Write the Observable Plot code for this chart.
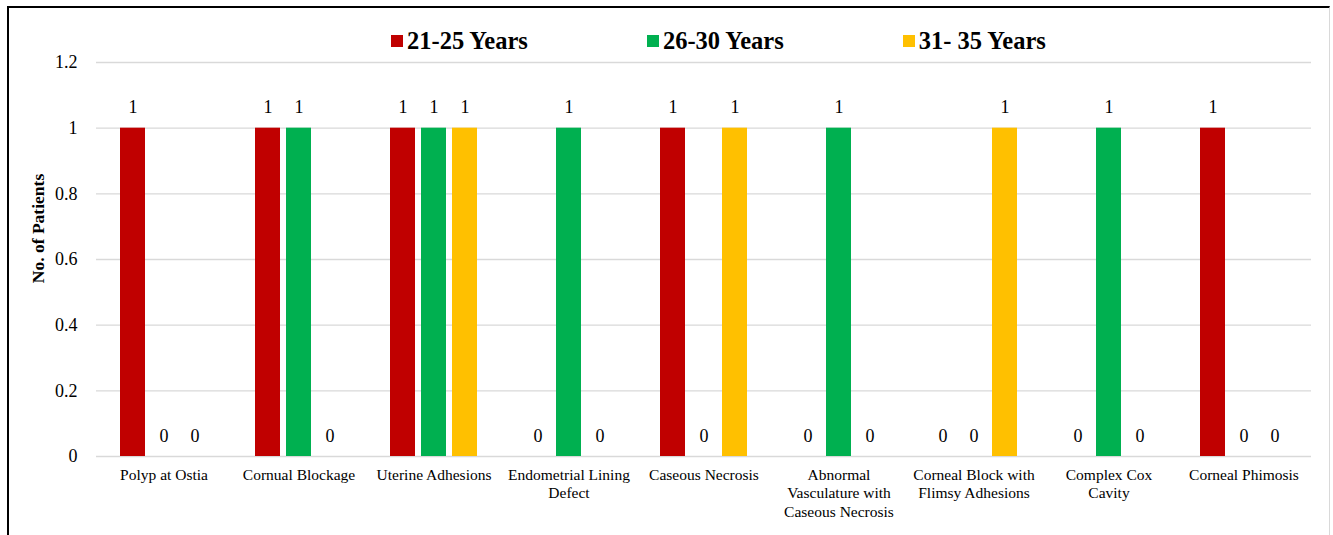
<!DOCTYPE html>
<html>
<head>
<meta charset="utf-8">
<script src="https://cdn.jsdelivr.net/npm/d3@7"></script>
<script src="https://cdn.jsdelivr.net/npm/@observablehq/plot@0.6"></script>
<style>
  html, body { margin: 0; padding: 0; background: #fff; overflow: hidden; }
  #wrap {
    position: absolute; left: 7px; top: 6px; width: 1320px; height: 560px;
    border-left: 2px solid #000; border-top: 2px solid #000; border-right: 1px solid #d9d9d9;
    font-family: "Liberation Serif", "Times New Roman", serif;
  }
  #legend {
    height: 44px; display: flex; align-items: center; padding-left: 382px; gap: 119px;
    font-weight: bold; font-size: 24.5px; color: #000; box-sizing: border-box; padding-top: 22px;
  }
  #legend .item { display: flex; align-items: center; gap: 4px; }
  #legend .sw { width: 12px; height: 12px; display: inline-block; }
  svg { display: block; }
</style>
</head>
<body>
<div id="wrap">
  <div id="legend"></div>
  <div id="chart"></div>
</div>
<script>
const categories = [
  "Polyp at Ostia",
  "Cornual Blockage",
  "Uterine Adhesions",
  "Endometrial Lining Defect",
  "Caseous Necrosis",
  "Abnormal Vasculature with Caseous Necrosis",
  "Corneal Block with Flimsy Adhesions",
  "Complex Cox Cavity",
  "Corneal Phimosis"
];
const categoryLabels = [
  "Polyp at Ostia",
  "Cornual Blockage",
  "Uterine Adhesions",
  "Endometrial Lining\nDefect",
  "Caseous Necrosis",
  "Abnormal\nVasculature with\nCaseous Necrosis",
  "Corneal Block with\nFlimsy Adhesions",
  "Complex Cox\nCavity",
  "Corneal Phimosis"
];
const seriesNames = ["21-25 Years", "26-30 Years", "31- 35 Years"];
const seriesColors = ["#C00000", "#00B050", "#FFC000"];
const age21_25 = [1, 1, 1, 0, 1, 0, 0, 0, 1];
const age26_30 = [0, 1, 1, 1, 0, 1, 0, 1, 0];
const age31_35 = [0, 0, 1, 0, 1, 0, 1, 0, 0];
const yTicks = [0, 0.2, 0.4, 0.6, 0.8, 1, 1.2];
const yLabel = "No. of Patients";

const seriesValues = [age21_25, age26_30, age31_35];
const data = [];
categories.forEach((c, i) => {
  seriesNames.forEach((s, j) => data.push({category: c, series: s, value: seriesValues[j][i]}));
});
const labelOf = Object.fromEntries(categories.map((c, i) => [c, categoryLabels[i]]));

// legend
const legend = document.getElementById("legend");
seriesNames.forEach((s, j) => {
  const it = document.createElement("div");
  it.className = "item";
  it.innerHTML = `<span class="sw" style="background:${seriesColors[j]}"></span><span>${s}</span>`;
  legend.appendChild(it);
});

const chart = Plot.plot({
  width: 1320,
  height: 483,
  marginLeft: 84,
  marginRight: 16,
  marginTop: 10,
  marginBottom: 79,
  style: {fontFamily: "'Liberation Serif', 'Times New Roman', serif", fontSize: "18px", color: "#000", background: "#fff"},
  fx: {domain: categories, padding: 0, axis: null, label: null},
  x: {domain: seriesNames, paddingInner: 0.2, paddingOuter: 0.76, axis: null},
  y: {domain: [0, 1.2], axis: null},
  color: {domain: seriesNames, range: seriesColors},
  marks: [
    Plot.gridY(yTicks, {stroke: "#d9d9d9", strokeOpacity: 1, strokeWidth: 1.3}),
    Plot.axisY({ticks: yTicks, tickSize: 0, tickPadding: 19, fontSize: 18,
      tickFormat: d => String(+d.toFixed(1)), label: null}),
    Plot.barY(data, {fx: "category", x: "series", y: "value", fill: "series"}),
    Plot.text(data, {fx: "category", x: "series", y: "value", text: d => String(d.value),
      lineAnchor: "bottom", dy: -15, fontSize: 18, fill: "#000"}),
    Plot.axisFx({anchor: "bottom", tickSize: 0, tickPadding: 10, fontSize: 15.5, lineHeight: 1.2,
      tickFormat: d => labelOf[d], label: null}),
    Plot.text([yLabel], {fx: () => categories[0], frameAnchor: "left", dx: -58, dy: -31, rotate: -90,
      textAnchor: "middle", fontWeight: "bold", fontSize: 17.5, fill: "#000"})
  ]
});
document.getElementById("chart").appendChild(chart);
</script>
</body>
</html>
